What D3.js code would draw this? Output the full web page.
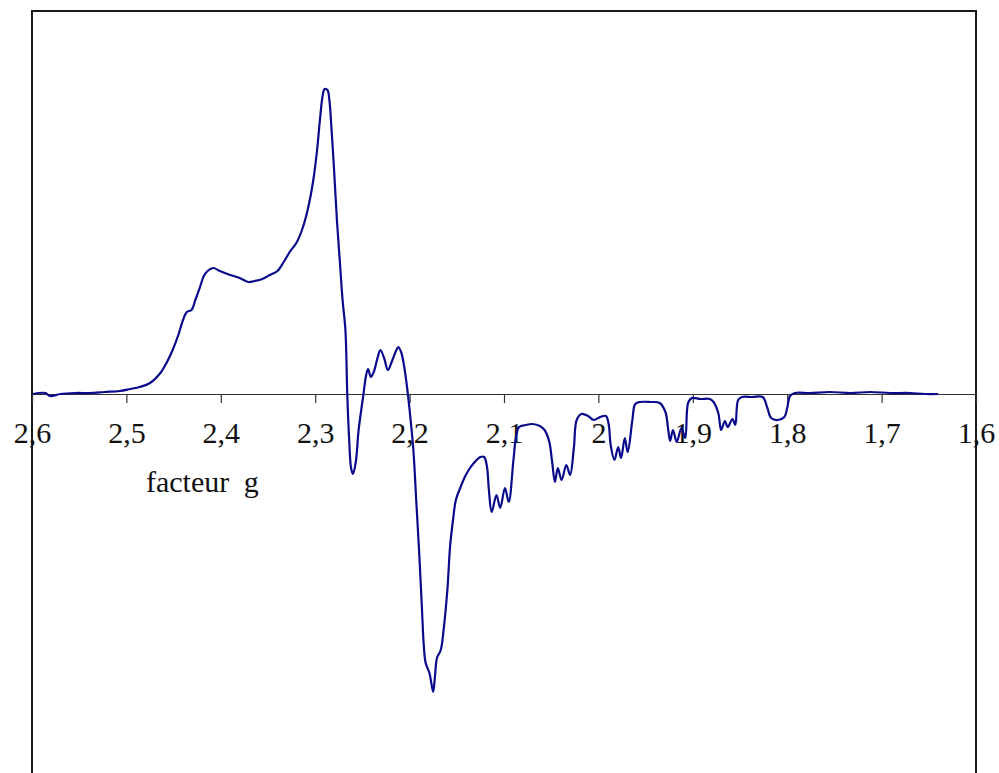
<!DOCTYPE html>
<html>
<head>
<meta charset="utf-8">
<script src="https://cdn.jsdelivr.net/npm/d3@7"></script>
<style>
html,body{margin:0;padding:0;background:#fff;}
svg{display:block;}
</style>
</head>
<body>
<svg id="chart" width="999" height="773"></svg>
<script>
// g-factor values (x) and EPR intensity (arbitrary units, y)
const gValues = [2.599,2.586,2.581,2.570,2.554,2.539,2.523,2.507,2.496,2.486,2.475,2.464,2.457,2.451,2.445,2.440,2.436,2.431,2.427,2.422,2.418,2.414,2.408,2.401,2.390,2.380,2.371,2.364,2.356,2.348,2.340,2.334,2.327,2.320,2.314,2.308,2.302,2.298,2.295,2.292,2.290,2.287,2.285,2.283,2.280,2.277,2.274,2.271,2.268,2.266,2.264,2.262,2.260,2.257,2.254,2.249,2.246,2.244,2.241,2.238,2.234,2.231,2.227,2.223,2.219,2.214,2.212,2.209,2.206,2.203,2.200,2.196,2.193,2.190,2.187,2.185,2.183,2.179,2.177,2.175,2.173,2.171,2.167,2.164,2.160,2.157,2.154,2.151,2.146,2.141,2.136,2.131,2.125,2.121,2.118,2.116,2.113,2.108,2.104,2.099,2.095,2.090,2.087,2.084,2.077,2.070,2.062,2.057,2.052,2.049,2.046,2.043,2.039,2.034,2.030,2.026,2.023,2.018,2.011,2.005,1.998,1.992,1.989,1.987,1.983,1.979,1.976,1.972,1.969,1.964,1.961,1.956,1.945,1.935,1.929,1.926,1.924,1.921,1.917,1.912,1.908,1.905,1.901,1.892,1.882,1.878,1.873,1.870,1.866,1.863,1.858,1.855,1.852,1.848,1.837,1.826,1.821,1.817,1.810,1.803,1.800,1.797,1.792,1.776,1.755,1.733,1.712,1.691,1.670,1.654,1.640];
const intensity = [0,1,-2,0,1,1,2,3,5,7,11,21,32,44,59,74,82,84,94,107,118,123,126,123,119,116,112,113,115,119,123,131,142,151,164,184,214,244,274,299,305,304,294,269,224,174,134,94,64,-1,-46,-74,-80,-68,-36,-1,19,25,17,22,36,44,36,24,32,44,47,42,29,9,-16,-56,-106,-156,-213,-251,-269,-279,-289,-298,-281,-264,-256,-236,-196,-151,-126,-106,-93,-82,-74,-68,-63,-63,-73,-96,-118,-101,-114,-94,-108,-66,-41,-33,-31,-30,-32,-36,-48,-68,-88,-74,-86,-71,-81,-54,-26,-20,-22,-26,-23,-22,-31,-51,-66,-53,-64,-44,-58,-26,-10,-8,-8,-9,-18,-36,-47,-36,-48,-34,-44,-9,-4,-5,-5,-8,-19,-36,-27,-33,-25,-31,-6,-3,-3,-3,-14,-24,-26,-23,-14,-2,1,1,2,1,2,1,1,0,0];
const tickValues = [2.6,2.5,2.4,2.3,2.2,2.1,2.0,1.9,1.8,1.7,1.6];
const tickLabels = ["2,6","2,5","2,4","2,3","2,2","2,1","2","1,9","1,8","1,7","1,6"];
const axisTitle = "facteur g";

const svg = d3.select("#chart");
const mLeft = 32, mRight = 976, mTop = 11, mBottom = 800;

const x = d3.scaleLinear().domain([2.6, 1.6]).range([mLeft, mRight]);
const y = d3.scaleLinear().domain([-406, 383]).range([mBottom, mTop]);

// plot frame
svg.append("rect")
  .attr("x", mLeft).attr("y", mTop)
  .attr("width", mRight - mLeft).attr("height", mBottom - mTop)
  .attr("fill", "none").attr("stroke", "#1a1a1a").attr("stroke-width", 2);

// x axis at zero
const axis = d3.axisBottom(x)
  .tickValues(tickValues)
  .tickSize(9)
  .tickPadding(19)
  .tickFormat((d, i) => tickLabels[i]);

const gAxis = svg.append("g")
  .attr("transform", `translate(0,${y(0)})`)
  .call(axis);
gAxis.select(".domain").attr("stroke", "#333").attr("stroke-width", 1.2);
gAxis.selectAll(".tick line").attr("stroke", "#333").attr("stroke-width", 1.2);
gAxis.selectAll(".tick text")
  .attr("fill", "#111")
  .style("font-family", "'Liberation Serif','Times New Roman',serif")
  .style("font-size", "30px");
gAxis.selectAll(".tick").filter(d => d === 2.6 || d === 1.6).select("line").remove();

svg.append("text")
  .attr("x", 146).attr("y", 492)
  .style("font-family", "'Liberation Serif','Times New Roman',serif")
  .style("font-size", "30px")
  .style("word-spacing", "7px")
  .attr("fill", "#111")
  .text(axisTitle);

const pts = gValues.map((g, i) => [g, intensity[i]]);
const line = d3.line()
  .x(d => x(d[0]))
  .y(d => y(d[1]))
  .curve(d3.curveCatmullRom.alpha(0.5));

svg.append("path")
  .datum(pts)
  .attr("fill", "none")
  .attr("stroke", "#0a0a8c")
  .attr("stroke-width", 2.2)
  .attr("stroke-linejoin", "round")
  .attr("d", line);
</script>
</body>
</html>
